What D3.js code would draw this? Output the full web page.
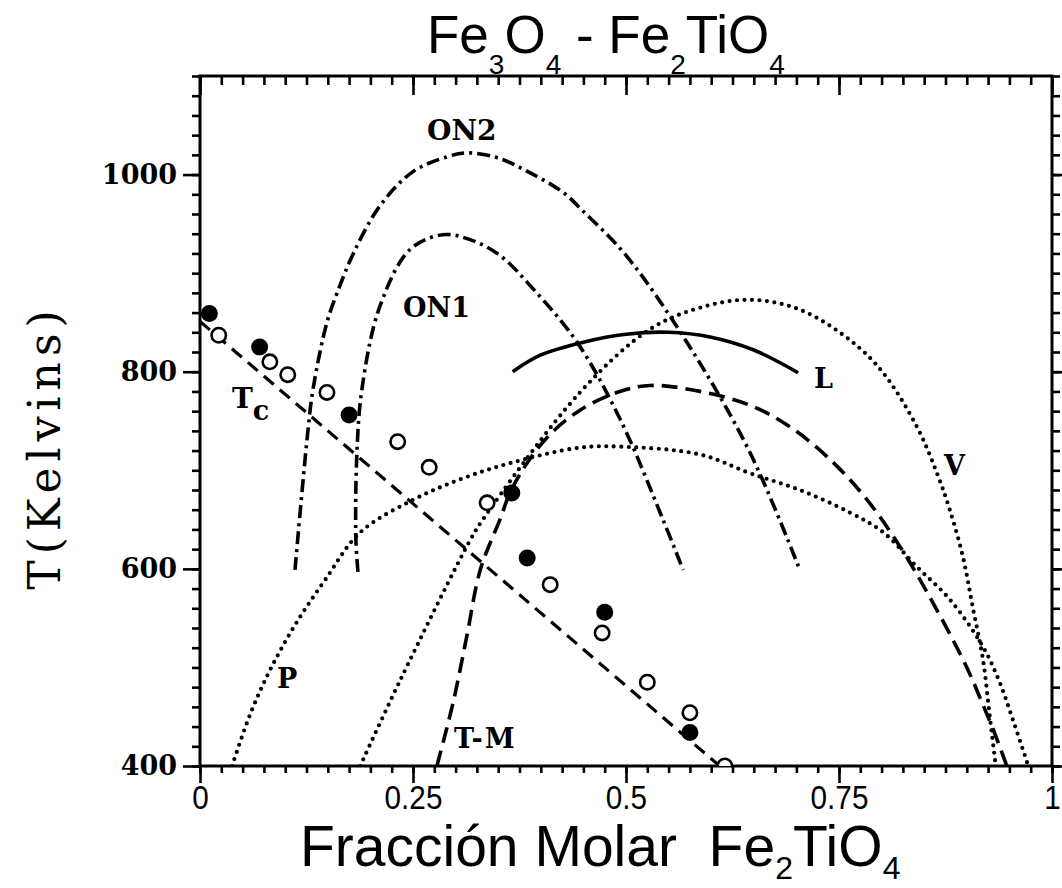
<!DOCTYPE html>
<html>
<head>
<meta charset="utf-8">
<script src="https://cdn.jsdelivr.net/npm/d3@7"></script>
<style>
  body { margin: 0; background: #fff; }
  svg { display: block; }
</style>
</head>
<body>
<svg id="chart" width="1062" height="888"></svg>
<script>
// ---------- data: Fe3O4 - Fe2TiO4 solid solution, T (K) vs molar fraction ----------
const xMajorTicks = [0, 0.25, 0.5, 0.75, 1];
const xTickLabels = ["0", "0.25", "0.5", "0.75", "1"];
const yMajorTicks = [400, 600, 800, 1000];
const yTickLabels = ["400", "600", "800", "1000"];

// measured Curie temperatures
const tcFilled = [[0.011, 859], [0.070, 825], [0.175, 756], [0.366, 677], [0.384, 611], [0.475, 556], [0.575, 434]];
const tcOpen = [[0.022, 837], [0.082, 810], [0.103, 797], [0.149, 779], [0.232, 729], [0.269, 703],
                [0.337, 667], [0.411, 584], [0.472, 535], [0.525, 485], [0.575, 454], [0.616, 400]];

// model curves
const curveTc = [[0, 851], [0.61, 400]];
const curveON2 = [[0.1115, 599], [0.1256, 731], [0.1326, 782], [0.149, 850], [0.161, 880], [0.180, 920],
                  [0.211, 968], [0.250, 1003], [0.290, 1018], [0.313, 1022], [0.349, 1017], [0.387, 1002],
                  [0.426, 982], [0.4495, 963], [0.501, 917], [0.575, 825], [0.6455, 718], [0.704, 599]];
const curveON1 = [[0.1854, 597], [0.183, 629], [0.184, 714], [0.190, 782], [0.211, 866], [0.2465, 924],
                  [0.285, 939], [0.317, 934], [0.352, 918], [0.391, 884], [0.4425, 830], [0.493, 752],
                  [0.5434, 650], [0.567, 599]];
const curveL = [[0.367, 800], [0.40, 817], [0.45, 830], [0.50, 838], [0.55, 840], [0.60, 835],
                [0.65, 822], [0.702, 799]];
const curveV = [[0.188, 400], [0.235, 487], [0.317, 629], [0.332, 650], [0.446, 779], [0.528, 843],
                [0.587, 865], [0.6455, 873], [0.704, 863], [0.763, 832], [0.8017, 799], [0.8415, 744],
                [0.865, 697], [0.880, 660], [0.8955, 612], [0.907, 561], [0.919, 508], [0.927, 450],
                [0.934, 400]];
const curveTM = [[0.278, 400], [0.297, 464], [0.313, 531], [0.329, 599], [0.352, 650], [0.367, 683],
                 [0.405, 731], [0.446, 761], [0.493, 780], [0.528, 786], [0.575, 782], [0.6455, 766],
                 [0.696, 742], [0.743, 708], [0.783, 670], [0.822, 622], [0.860, 566], [0.900, 500],
                 [0.919, 462], [0.931, 437], [0.947, 400]];
const curveP = [[0.0376, 400], [0.0587, 452], [0.082, 497], [0.1115, 543], [0.147, 589], [0.188, 637],
                [0.25, 670], [0.309, 692], [0.367, 708], [0.446, 723], [0.493, 724], [0.587, 716],
                [0.6455, 697], [0.704, 680], [0.763, 657], [0.802, 637], [0.8415, 602], [0.880, 569],
                [0.919, 521], [0.939, 484], [0.954, 447], [0.968, 411], [0.972, 400]];

// ---------- layout ----------
const svg = d3.select("#chart");
const plotLeft = 200, plotRight = 1052, plotTop = 76, plotBottom = 766;
const x = d3.scaleLinear().domain([0, 1]).range([plotLeft, plotRight]);
const y = d3.scaleLinear().domain([400, 1100]).range([plotBottom, plotTop]);

const serif = "'DejaVu Serif', serif";
const sans = "'Liberation Sans', Arial, sans-serif";

svg.append("defs").append("clipPath").attr("id", "plotClip")
  .append("rect").attr("x", plotLeft).attr("y", plotTop)
  .attr("width", plotRight - plotLeft).attr("height", plotBottom - plotTop);

// ---------- axes ----------
const xMinor = d3.range(0, 1.0001, 0.025);
const yMinor = d3.range(400, 1100.1, 20);

function styleAxis(g) {
  g.select(".domain").remove();
  g.selectAll("line").attr("stroke", "#000").attr("stroke-width", 2.6);
}
// tick marks only, no labels
function bareAxis(g) {
  styleAxis(g);
  g.selectAll("text").remove();
}

// bottom: outward ticks with condensed sans labels
svg.append("g").attr("transform", `translate(0,${plotBottom})`)
  .call(d3.axisBottom(x).tickValues(xMinor).tickSize(7))
  .call(bareAxis);
const gxb = svg.append("g").attr("transform", `translate(0,${plotBottom})`)
  .call(d3.axisBottom(x).tickValues(xMajorTicks).tickSize(17).tickPadding(3)
        .tickFormat((d, i) => xTickLabels[i]))
  .call(styleAxis);
gxb.selectAll("text").attr("font-family", sans).attr("font-size", 33).attr("fill", "#000")
  .attr("transform", "scale(0.9,1)");

// top: inward ticks
svg.append("g").attr("transform", `translate(0,${plotTop})`)
  .call(d3.axisBottom(x).tickValues(xMinor).tickSize(9))
  .call(bareAxis);
svg.append("g").attr("transform", `translate(0,${plotTop})`)
  .call(d3.axisBottom(x).tickValues(xMajorTicks).tickSize(19))
  .call(bareAxis);

// left: outward ticks with bold serif labels
svg.append("g").attr("transform", `translate(${plotLeft},0)`)
  .call(d3.axisLeft(y).tickValues(yMinor).tickSize(8))
  .call(bareAxis);
const gyl = svg.append("g").attr("transform", `translate(${plotLeft},0)`)
  .call(d3.axisLeft(y).tickValues(yMajorTicks).tickSize(17).tickPadding(6)
        .tickFormat((d, i) => yTickLabels[i]))
  .call(styleAxis);
gyl.selectAll("text").attr("font-family", serif).attr("font-weight", "bold")
  .attr("font-size", 27).attr("fill", "#000");

// right: outward ticks
svg.append("g").attr("transform", `translate(${plotRight},0)`)
  .call(d3.axisRight(y).tickValues(yMinor).tickSize(8))
  .call(bareAxis);
svg.append("g").attr("transform", `translate(${plotRight},0)`)
  .call(d3.axisRight(y).tickValues(yMajorTicks).tickSize(14))
  .call(bareAxis);

// frame
svg.append("rect").attr("x", plotLeft).attr("y", plotTop)
  .attr("width", plotRight - plotLeft).attr("height", plotBottom - plotTop)
  .attr("fill", "none").attr("stroke", "#000").attr("stroke-width", 3);

// ---------- curves ----------
const plot = svg.append("g").attr("clip-path", "url(#plotClip)");
const line = d3.line().x(d => x(d[0])).y(d => y(d[1])).curve(d3.curveCatmullRom.alpha(0.5));

const curves = [
  { data: curveON2, dash: "13 5 3 5", width: 3.6, cap: "butt" },
  { data: curveON1, dash: "13 5 3 5", width: 3.6, cap: "butt" },
  { data: curveTc, dash: "13 8", width: 3.2, cap: "butt" },
  { data: curveTM, dash: "16 8", width: 3.6, cap: "butt" },
  { data: curveV, dash: "0 7.5", width: 4.2, cap: "round" },
  { data: curveP, dash: "0 7.5", width: 4.2, cap: "round" },
  { data: curveL, dash: null, width: 3.6, cap: "butt" }
];
curves.forEach(c => {
  plot.append("path").attr("d", line(c.data)).attr("fill", "none").attr("stroke", "#000")
    .attr("stroke-width", c.width).attr("stroke-dasharray", c.dash).attr("stroke-linecap", c.cap);
});

// ---------- points ----------
plot.selectAll("circle.open").data(tcOpen).join("circle").attr("class", "open")
  .attr("cx", d => x(d[0])).attr("cy", d => y(d[1])).attr("r", 7.2)
  .attr("fill", "#fff").attr("stroke", "#000").attr("stroke-width", 2.6);
plot.selectAll("circle.filled").data(tcFilled).join("circle").attr("class", "filled")
  .attr("cx", d => x(d[0])).attr("cy", d => y(d[1])).attr("r", 8.5).attr("fill", "#000");

// ---------- curve labels ----------
function label(txt, px, py, size) {
  return svg.append("text").attr("x", px).attr("y", py).text(txt)
    .attr("font-family", serif).attr("font-weight", "bold").attr("font-size", size || 27).attr("fill", "#000");
}
label("ON2", 427, 140, 28);
label("ON1", 403, 317, 27);
label("L", 814, 388, 27);
label("V", 944, 475, 27);
label("P", 277, 688, 27);
label("T-M", 454, 748, 27).attr("letter-spacing", 2);
const tc = label("T", 232, 408, 28);
tc.append("tspan").attr("dy", 12).attr("font-size", 27).text("c");

// ---------- titles ----------
const title = svg.append("text").attr("x", 427).attr("y", 53)
  .attr("font-family", sans).attr("font-size", 53).attr("fill", "#000");
const sub = (t, s, dy) => title.append("tspan").attr("font-size", s).attr("dy", dy).text(t);
sub("Fe", 53, 0); sub("3", 28, 21); sub("O", 53, -21); sub("4", 28, 21);
sub(" - Fe", 53, -21); sub("2", 28, 21); sub("TiO", 53, -21); sub("4", 28, 21);

const xt = svg.append("text").attr("x", 300).attr("y", 866)
  .attr("font-family", sans).attr("font-size", 57).attr("fill", "#000");
const xsub = (t, s, dy) => xt.append("tspan").attr("font-size", s).attr("dy", dy).text(t);
xsub("Fracción Molar\u00a0\u00a0Fe", 57, 0); xsub("2", 32, 13); xsub("TiO", 57, -13); xsub("4", 32, 13);

svg.append("text").attr("transform", "translate(60,447) rotate(-90)")
  .attr("text-anchor", "middle").attr("font-family", serif)
  .attr("font-size", 44).attr("letter-spacing", 6).attr("fill", "#000")
  .text("T(Kelvins)");
</script>
</body>
</html>
